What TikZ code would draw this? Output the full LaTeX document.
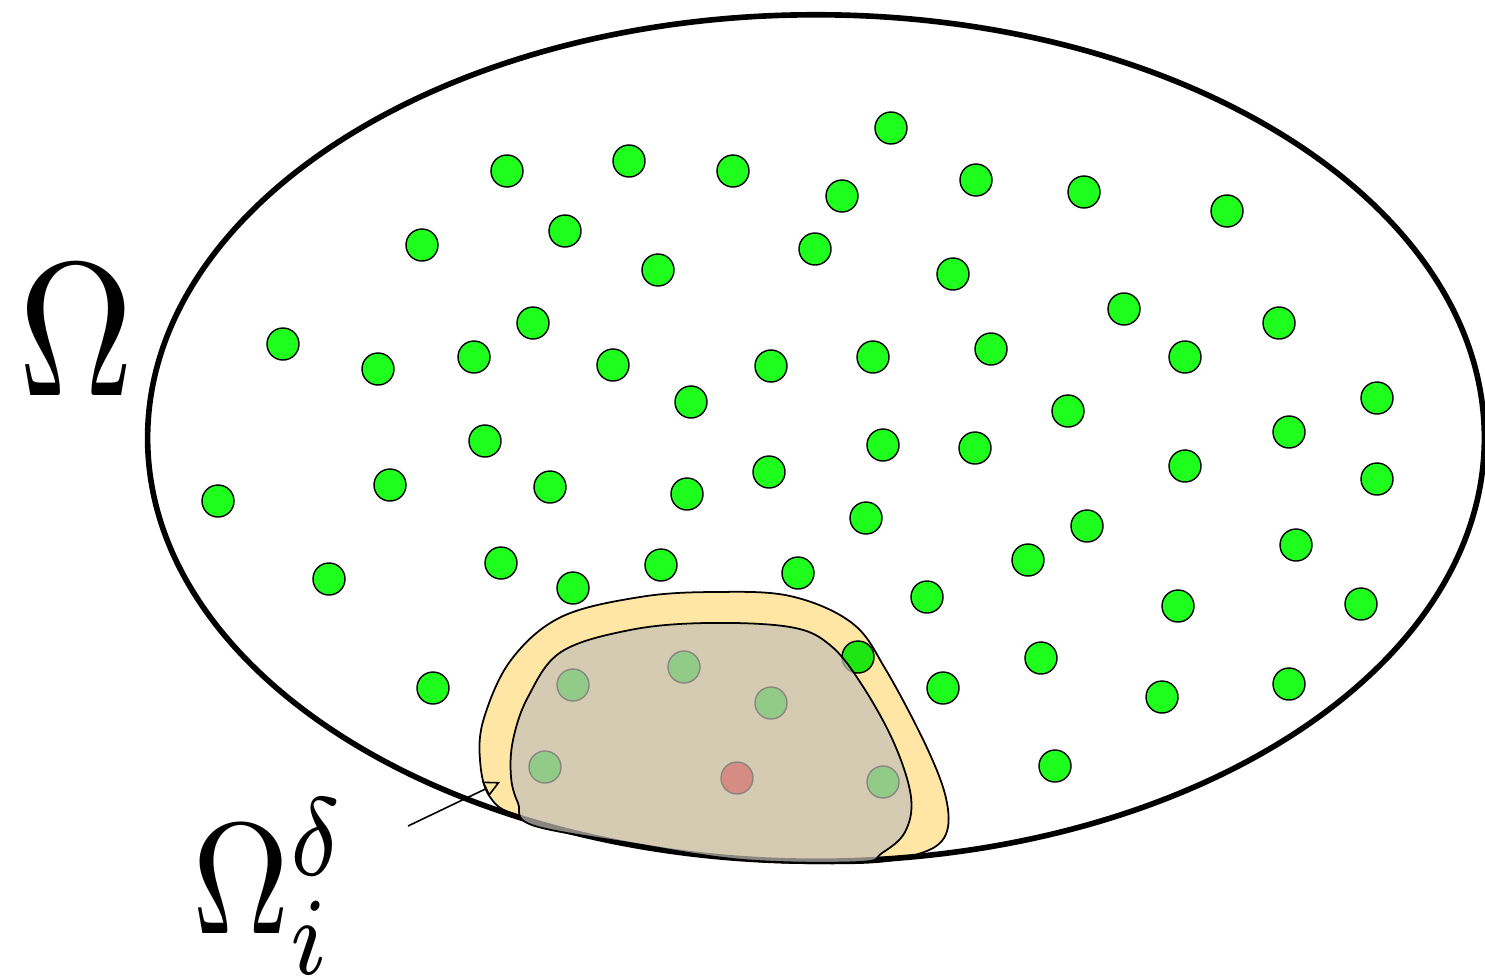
\documentclass[tikz,border=0pt]{standalone}
\usepackage{amsmath,amssymb}
\usepackage{tikz}
\usetikzlibrary{arrows.meta,positioning}
\definecolor{sitegreen}{RGB}{30,255,30}
\definecolor{sitered}{RGB}{255,20,0}
\definecolor{ringyellow}{RGB}{255,230,165}
\definecolor{patchgray}{RGB}{196,192,186}
\tikzset{
  wholedomain/.style={draw, line width=1.6pt},
  site/.style={draw, circle, inner sep=0pt, minimum size=3.2mm, line width=0.4pt, fill=sitegreen},
  redsite/.style={site, fill=sitered},
  ring/.style={draw, line width=0.5pt, fill=ringyellow, blend mode=multiply},
  patch/.style={draw, line width=0.5pt, fill=patchgray, fill opacity=0.7},
  pointer/.style={-{Triangle[open, length=1.6mm, width=1.6mm]}, line width=0.45pt},
  biglabel/.style={inner sep=0pt, anchor=base west}
}

\begin{document}
\begin{tikzpicture}[x=0.01cm, y=-0.01cm]
  \useasboundingbox (0,0) rectangle (1485,975);
  % the whole domain
  \coordinate (centre) at (816,438);
  \draw[wholedomain] (centre) ellipse [x radius=6.68cm, y radius=4.23cm];
  \node[biglabel, xscale=4.55, yscale=5.42] (omega) at (15,395) {$\Omega$};
  % sites
  \foreach \px/\py [count=\k] in {891/128, 507/171, 629/161, 733/171, 842/196, 976/180,
      1084/192, 1227/211, 422/245, 565/231, 658/270, 815/249, 953/274, 1124/309,
      1279/323, 283/344, 378/369, 474/357, 533/323, 613/365, 771/366, 873/357,
      991/349, 1185/357, 691/402, 1068/411, 1377/398, 485/441, 883/445, 975/448,
      1289/432, 218/501, 390/485, 550/487, 687/494, 769/472, 1185/466, 1377/479,
      866/518, 1087/526, 329/579, 501/563, 573/588, 661/565, 798/573, 927/597,
      1028/560, 1296/545, 1178/606, 1361/604, 433/688, 943/688, 1041/658,
      1162/697, 1289/684, 1055/766, 858/657, 573/685, 684/667, 771/703, 545/767,
      883/782}
    \node[site] (s\k) at (\px,\py) {};
  \node[redsite] (centresite) at (737,778) {};
  % extended patch and patch
  \draw[ring] plot[smooth cycle, tension=0.6] coordinates {
      (714,592) (790,596) (852,623) (886,670) (928,750) (947,803) (944,838)
      (915,855) (859,863) (744,860) (630,843) (522,817) (490,797) (480,760)
      (484,718) (511,660) (561,617) (640,597)};
  \draw[patch] plot[smooth cycle, tension=0.6] coordinates {
      (706,623) (790,627) (830,645) (862,685) (894,743) (911,797) (905,832)
      (882,853) (859,862) (744,860) (630,843) (532,825) (518,803) (511,777)
      (513,740) (528,697) (561,652) (630,630)};
  \node[biglabel, xscale=3.83, yscale=4.5] (omegai) at (190,933) {$\Omega_i^\delta$};
  \coordinate (tail) at (408,826);
  \coordinate (tip) at (500,782);
  \draw[pointer] (tail) -- (tip);
\end{tikzpicture}
\end{document}
